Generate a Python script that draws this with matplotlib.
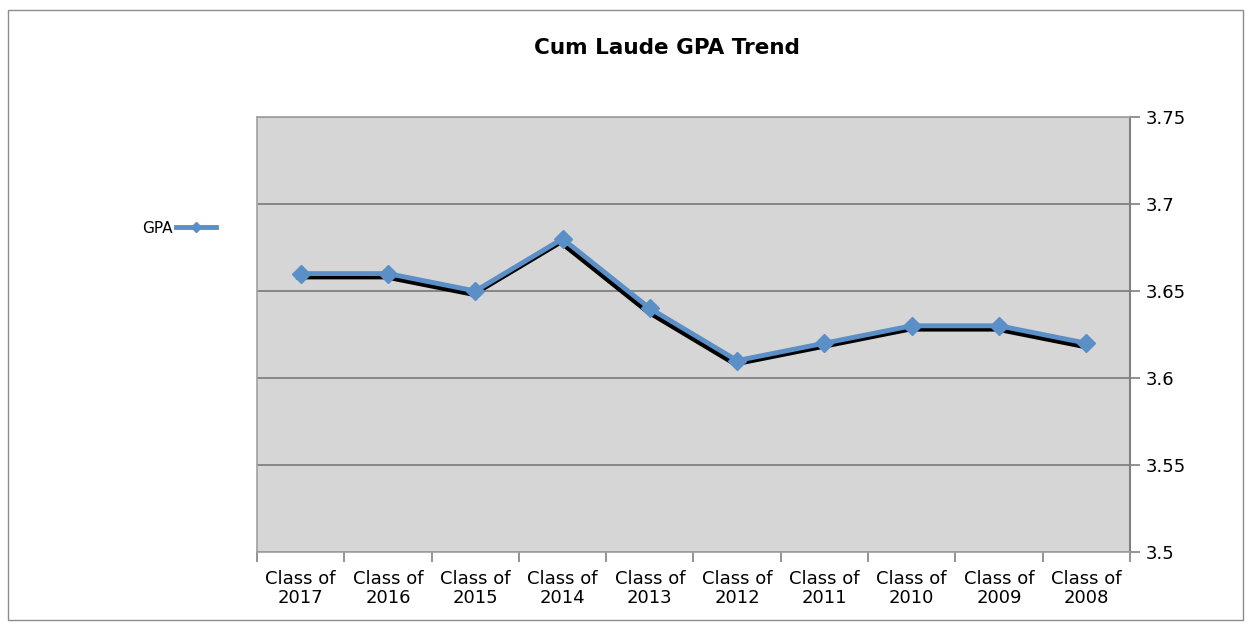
import matplotlib.pyplot as plt
import matplotlib.transforms as mtransforms
from matplotlib.patches import Rectangle
from matplotlib.lines import Line2D

# Données (le graphique de référence est en miroir : 2008 à droite)
classes = ["Class of\n2008", "Class of\n2009", "Class of\n2010", "Class of\n2011",
           "Class of\n2012", "Class of\n2013", "Class of\n2014", "Class of\n2015",
           "Class of\n2016", "Class of\n2017"]
gpa = [3.62, 3.63, 3.63, 3.62, 3.61, 3.64, 3.68, 3.65, 3.66, 3.66]
y_ticks = [3.5, 3.55, 3.6, 3.65, 3.7, 3.75]
y_labels = ["3.5", "3.55", "3.6", "3.65", "3.7", "3.75"]

plt.rcParams['font.family'] = ['DejaVu Sans']

fig = plt.figure(figsize=(12.52, 6.3), dpi=100)
ax = fig.add_axes([257 / 1252, 1 - 552 / 630, 873 / 1252, 435 / 630])
ax.set_facecolor('#d6d6d6')

# cadre extérieur
fig.patches.append(Rectangle((8 / 1252, 10 / 630), 1235 / 1252, 610 / 630,
                             transform=fig.transFigure, fill=False,
                             edgecolor='#8c8c8c', linewidth=1))

x = list(range(len(classes)))

# ombre noire décalée
ombre = mtransforms.offset_copy(ax.transData, fig=fig, x=-2, y=-3, units='dots')
ax.plot(x, gpa, color='black', linewidth=4, transform=ombre, zorder=3)
ax.plot(x, gpa, color='#5b8fc7', linewidth=3.5, marker='D', markersize=9,
        markeredgecolor='#5b8fc7', zorder=4)

ax.set_xlim(9.5, -0.5)
ax.set_ylim(3.5, 3.75)

ax.set_yticks(y_ticks)
ax.set_yticklabels(y_labels, fontsize=13)
ax.yaxis.tick_right()
ax.tick_params(axis='y', direction='out', length=7, width=1.2, color='#808080', pad=4)
ax.yaxis.grid(True, color='#808080', linewidth=1.3)
ax.set_axisbelow(True)

ax.set_xticks(x)
ax.set_xticklabels(classes, fontsize=13, linespacing=1.05)
ax.set_xticks([i - 0.5 for i in range(len(classes) + 1)], minor=True)
ax.tick_params(axis='x', which='major', length=0, pad=13)
ax.tick_params(axis='x', which='minor', direction='out', length=7, width=1.2, color='#808080')

for side in ['left', 'top', 'bottom']:
    ax.spines[side].set_color('#a0a0a0')
    ax.spines[side].set_linewidth(1.2)
ax.spines['right'].set_color('#808080')
ax.spines['right'].set_linewidth(1.5)

fig.text(667 / 1252, 1 - 48 / 630, "Cum Laude GPA Trend", fontsize=15.5,
         fontweight='bold', ha='center', va='center')

handle = Line2D([], [], color='#5b8fc7', linewidth=3.5, marker='D', markersize=5)
fig.legend([handle], ["GPA"], loc='center', bbox_to_anchor=(179 / 1252, 1 - 228 / 630),
           frameon=False, markerfirst=False, fontsize=11, handlelength=2.6,
           handletextpad=0.2)

fig.savefig("out.png", dpi=100)
